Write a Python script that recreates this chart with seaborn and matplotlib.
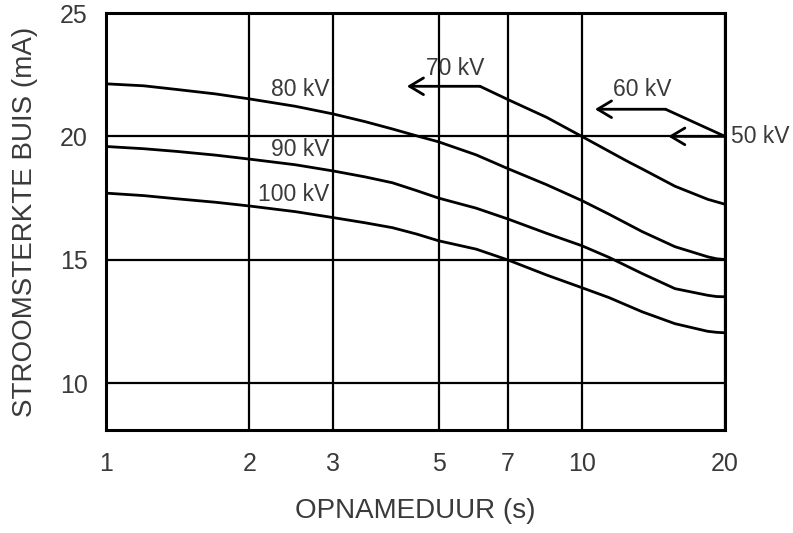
import matplotlib
matplotlib.use("Agg")
import matplotlib.pyplot as plt
import seaborn as sns
import pandas as pd
from matplotlib.ticker import FixedLocator, FixedFormatter, NullLocator

# Exposure time (s) against maximum tube current (mA), one curve per tube voltage
t_main = [1, 1.2, 1.41, 1.7, 2, 2.5, 3, 3.5, 4, 4.5, 5, 6, 7, 8.44, 10,
          11.4, 13.4, 15.7, 18.4, 19.2, 20]
ma_80kv = [22.13, 22.05, 21.9, 21.72, 21.52, 21.22, 20.91, 20.6, 20.3, 20.02,
           19.78, 19.25, 18.69, 18.04, 17.4, 16.85, 16.14, 15.53, 15.12, 15.04, 15.01]
ma_90kv = [19.59, 19.5, 19.39, 19.24, 19.08, 18.85, 18.6, 18.36, 18.12, 17.8,
           17.5, 17.09, 16.65, 16.07, 15.57, 15.1, 14.44, 13.83, 13.56, 13.51, 13.5]
ma_100kv = [17.70, 17.6, 17.47, 17.33, 17.18, 16.95, 16.71, 16.5, 16.3, 16.04,
            15.77, 15.43, 14.99, 14.38, 13.87, 13.47, 12.89, 12.41, 12.1, 12.06, 12.04]
t_70kv = [6.11, 7, 8.44, 10, 11.4, 12.5, 13.4, 15.7, 18.4, 20]
ma_70kv = [22.03, 21.49, 20.77, 20.0, 19.4, 18.98, 18.68, 17.98, 17.45, 17.25]

x_ticks = [1, 2, 3, 5, 7, 10, 20]
x_tick_labels = ["1", "2", "3", "5", "7", "10", "20"]
y_ticks = [10, 15, 20, 25]

# curve labels placed left of the 3 s grid line
curve_labels = ["80 kV", "90 kV", "100 kV"]
curve_label_x = [2.95, 2.95, 2.95]
curve_label_y = [21.9, 19.46, 17.63]

# leader arrows for the 70, 60 and 50 kV limits
arrow_70_from = (6.11, 22.03)
arrow_70_to = (4.29, 22.03)
leader_60_t = [20, 15.0]
leader_60_ma = [20.0, 21.1]
arrow_60_to = (10.66, 21.1)
arrow_50_from = (20, 20.0)
arrow_50_to = (15.2, 20.0)

sns.set_theme(style="white")
plt.rcParams["font.family"] = ["Liberation Sans", "DejaVu Sans"]

text_color = "#3a3a3a"

fig = plt.figure(figsize=(7.93, 5.33), dpi=100)
ax = fig.add_axes([0.1337, 0.1932, 0.7805, 0.7824])

curves = pd.concat([
    pd.DataFrame({"t": t_main, "ma": ma_80kv, "kv": "80"}),
    pd.DataFrame({"t": t_main, "ma": ma_90kv, "kv": "90"}),
    pd.DataFrame({"t": t_main, "ma": ma_100kv, "kv": "100"}),
    pd.DataFrame({"t": t_70kv, "ma": ma_70kv, "kv": "70"}),
])
sns.lineplot(data=curves, x="t", y="ma", units="kv", estimator=None,
             color="black", lw=2.0, ax=ax, sort=True, zorder=3)

ax.set_xscale("log")
ax.set_xlim(1, 20)
ax.set_ylim(8.1, 25)
ax.xaxis.set_major_locator(FixedLocator(x_ticks))
ax.xaxis.set_major_formatter(FixedFormatter(x_tick_labels))
ax.xaxis.set_minor_locator(NullLocator())
ax.yaxis.set_major_locator(FixedLocator(y_ticks))
ax.yaxis.set_minor_locator(NullLocator())

ax.grid(True, which="major", color="black", lw=1.6)
ax.set_axisbelow(True)
for s in ax.spines.values():
    s.set_color("black")
    s.set_linewidth(2.2)

ax.tick_params(axis="both", length=0, labelsize=18, colors=text_color)
ax.tick_params(axis="x", pad=16)
ax.tick_params(axis="y", pad=13)

ax.set_xlabel("OPNAMEDUUR (s)", fontsize=20, color=text_color, labelpad=16)
ax.set_ylabel("STROOMSTERKTE BUIS (mA)", fontsize=20, color=text_color, labelpad=16)

for lab, lx, ly in zip(curve_labels, curve_label_x, curve_label_y):
    ax.text(lx, ly, lab, ha="right", va="center", fontsize=16.5, color=text_color)

arrow_kw = dict(arrowstyle="->, head_length=0.5, head_width=0.3", lw=2.0,
                color="black", shrinkA=0, shrinkB=0, mutation_scale=20)

ax.annotate("", xy=arrow_70_to, xytext=arrow_70_from, arrowprops=arrow_kw, zorder=4)
ax.text(5.43, 22.76, "70 kV", ha="center", va="center", fontsize=16.5, color=text_color)

ax.plot(leader_60_t, leader_60_ma, color="black", lw=2.0, zorder=4)
ax.annotate("", xy=arrow_60_to, xytext=(leader_60_t[1], leader_60_ma[1]),
            arrowprops=arrow_kw, zorder=4)
ax.text(13.4, 21.91, "60 kV", ha="center", va="center", fontsize=16.5, color=text_color)

ax.annotate("", xy=arrow_50_to, xytext=arrow_50_from, arrowprops=arrow_kw, zorder=4)
ax.annotate("50 kV", xy=arrow_50_from, xytext=(4, 0), textcoords="offset points",
            ha="left", va="center", fontsize=16.5, color=text_color,
            annotation_clip=False)

fig.savefig("out.png", dpi=100)
